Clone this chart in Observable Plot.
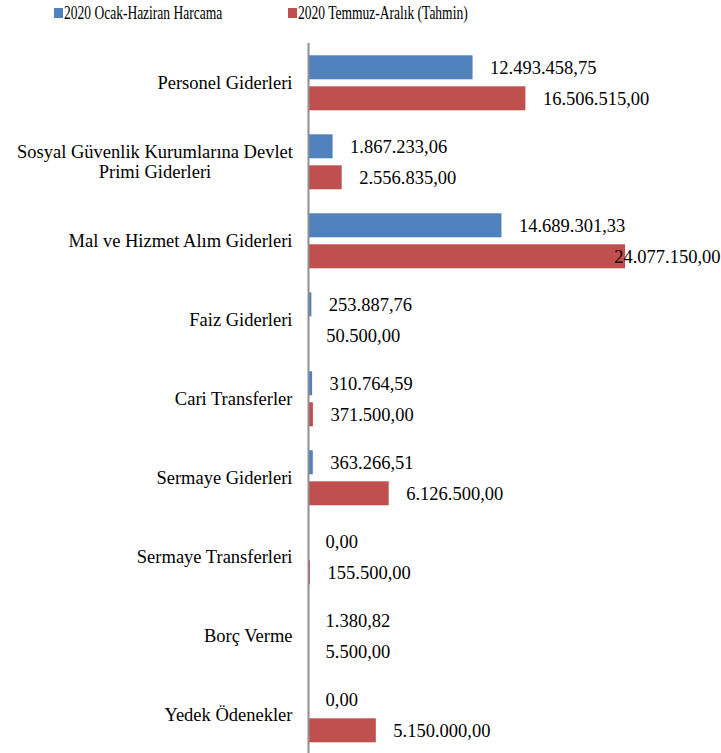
<!DOCTYPE html>
<html>
<head>
<meta charset="utf-8">
<script src="https://cdn.jsdelivr.net/npm/d3@7"></script>
<script src="https://cdn.jsdelivr.net/npm/@observablehq/plot@0.6"></script>
<style>
  html, body { margin: 0; padding: 0; background: #fff; overflow: hidden; }
  #legend { position: relative; width: 721px; height: 30px; font-family: "Liberation Serif", "Times New Roman", serif; }
  .sw { position: absolute; top: 8px; width: 9px; height: 10px; }
  .lt { position: absolute; top: 2px; font-size: 18.5px; line-height: 22px; color: #000; transform-origin: 0 50%; transform: scaleX(0.73); white-space: nowrap; }
  #chart svg { display: block; }
</style>
</head>
<body>
<div id="legend"></div>
<div id="chart"></div>
<script>
const categories = [
  "Personel Giderleri",
  "Sosyal Güvenlik Kurumlarına Devlet\nPrimi Giderleri",
  "Mal ve Hizmet Alım Giderleri",
  "Faiz Giderleri",
  "Cari Transferler",
  "Sermaye Giderleri",
  "Sermaye Transferleri",
  "Borç Verme",
  "Yedek Ödenekler"
];
const seriesNames = ["2020 Ocak-Haziran Harcama", "2020 Temmuz-Aralık (Tahmin)"];
const firstHalf = [12493458.75, 1867233.06, 14689301.33, 253887.76, 310764.59, 363266.51, 0, 1380.82, 0];
const secondHalf = [16506515.00, 2556835.00, 24077150.00, 50500.00, 371500.00, 6126500.00, 155500.00, 5500.00, 5150000.00];
const colors = ["#4F81BD", "#C0504D"];

const rows = categories.flatMap((c, i) => [
  {cat: c, series: seriesNames[0], value: firstHalf[i]},
  {cat: c, series: seriesNames[1], value: secondHalf[i]}
]);

const locale = d3.formatLocale({decimal: ",", thousands: ".", grouping: [3], currency: ["", ""]});
const fmt = locale.format(",.2f");

// legend
const legend = document.getElementById("legend");
const legendX = [54, 288];
seriesNames.forEach((s, i) => {
  const sw = document.createElement("div");
  sw.className = "sw";
  sw.style.left = legendX[i] + "px";
  sw.style.background = colors[i];
  legend.appendChild(sw);
  const t = document.createElement("div");
  t.className = "lt";
  t.style.left = (legendX[i] + 10) + "px";
  t.textContent = s;
  legend.appendChild(t);
});

const chart = Plot.plot({
  width: 721,
  height: 724,
  marginLeft: 308,
  marginRight: 0,
  marginTop: 12.7,
  marginBottom: 0,
  style: {fontFamily: '"Liberation Serif", "Times New Roman", serif', fontSize: "18.5px", color: "#000", background: "white", overflow: "visible"},
  x: {domain: [0, 31.36e6], axis: null},
  y: {domain: seriesNames, axis: null, paddingInner: 0.226, paddingOuter: 0.387},
  fy: {domain: categories, axis: null, padding: 0},
  color: {domain: seriesNames, range: colors},
  facet: {data: rows, y: "cat"},
  marks: [
    Plot.barX(rows, {x: "value", y: "series", fill: "series", insetTop: 0, insetBottom: 0}),
    Plot.ruleX([0], {stroke: "#8e8e8e", strokeWidth: 2}),
    Plot.text(rows, {filter: d => d.value < 22e6, x: "value", y: "series", text: d => fmt(d.value), textAnchor: "start", dx: 17, fill: "#000", fontSize: 18.5}),
    Plot.text(rows, {filter: d => d.value >= 22e6, y: "series", frameAnchor: "right", text: d => fmt(d.value), textAnchor: "end", dx: -1, fill: "#000", fontSize: 18.5}),
    Plot.text(rows, {filter: d => d.series === seriesNames[0], frameAnchor: "left", text: "cat", textAnchor: "end", dx: -16, fill: "#000", fontSize: 18.5, lineHeight: 1.08})
  ]
});
document.getElementById("chart").appendChild(chart);

// center-align lines of multi-line category labels
chart.querySelectorAll("text").forEach(t => {
  const spans = t.querySelectorAll("tspan");
  if (spans.length > 1) {
    const bb = t.getBBox();
    const cx = bb.x + bb.width / 2;
    t.setAttribute("text-anchor", "middle");
    spans.forEach(s => s.setAttribute("x", cx));
  }
});
</script>
</body>
</html>
